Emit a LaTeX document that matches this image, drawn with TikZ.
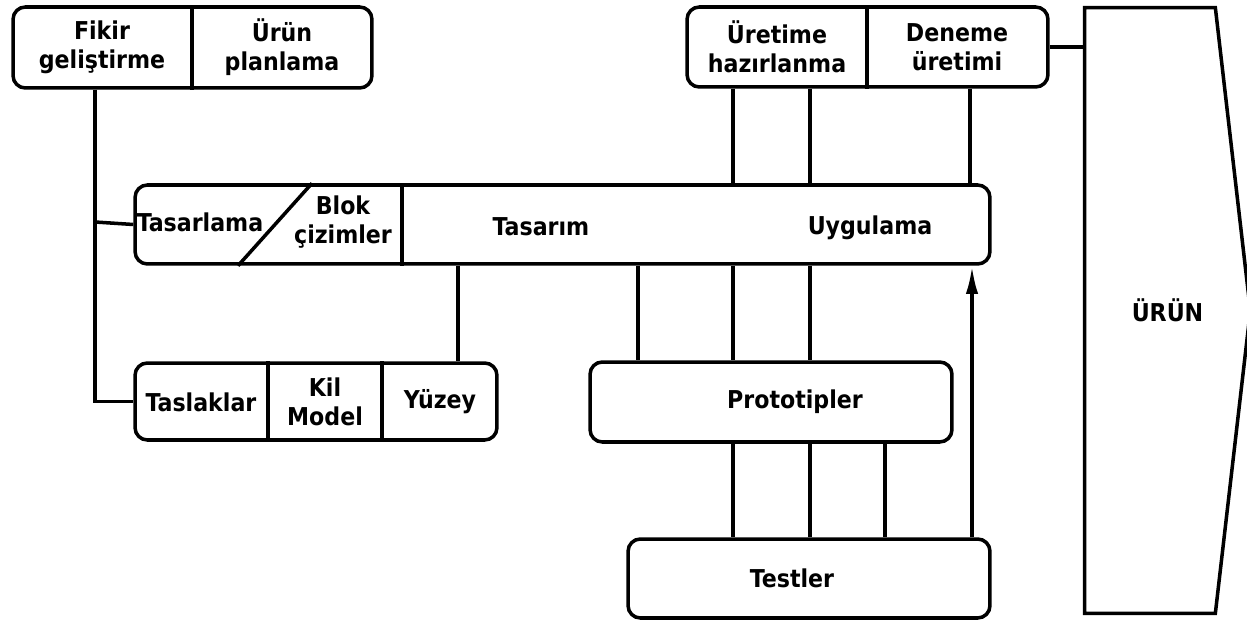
\documentclass[tikz,border=0pt]{standalone}
\usepackage{fontspec}
\setmainfont{DejaVu Sans Condensed}
\usetikzlibrary{arrows.meta}

\tikzset{
        box/.style={draw=black, line width=2pt, rounded corners=7pt, inner sep=0pt},
        txt/.style={font=\bfseries\fontsize{14}{16.5}\selectfont, align=center, inner sep=0pt},
        wire/.style={draw=black, line width=2pt},
}

\begin{document}
\begin{tikzpicture}[x=0.02cm, y=-0.02cm]
        \useasboundingbox (0,0) rectangle (1247,621);

        \node[box, minimum width=7.18cm, minimum height=1.62cm](plan) at (192.5,47.5) {};
        \node[box, minimum width=7.22cm, minimum height=1.6cm](prod) at (867.5,47) {};
        \node[box, minimum width=17.1cm, minimum height=1.58cm](design) at (562.5,224.5) {};
        \node[box, minimum width=7.24cm, minimum height=1.54cm](sketch) at (316,401.5) {};
        \node[box, minimum width=7.24cm, minimum height=1.6cm](proto) at (771,402) {};
        \node[box, minimum width=7.24cm, minimum height=1.58cm](tests) at (809,578.5) {};
        \node[txt, minimum width=3.3cm, minimum height=12.1cm](product) at (1167.5,310.5) {ÜRÜN};
        \draw[wire] (product.north west) -- ([xshift=-0.7cm]product.north east) -- (product.east)
                -- ([xshift=-0.7cm]product.south east) -- (product.south west) -- cycle;

        \draw[wire] (192,0 |- plan.north) -- (192,0 |- plan.south);
        \draw[wire] (867,0 |- prod.north) -- (867,0 |- prod.south);
        \draw[wire] (312,0 |- design.north) -- (238,0 |- design.south);
        \draw[wire] (402,0 |- design.north) -- (402,0 |- design.south);
        \foreach \x in {268,382} {
                \draw[wire] (\x,0 |- sketch.north) -- (\x,0 |- sketch.south);
            }

        \node[txt](fikir) at (102,47) {Fikir\\geliştirme};
        \node[txt](urunplan) at (282,47) {Ürün\\planlama};
        \node[txt](uretime) at (777,47) {Üretime\\hazırlanma};
        \node[txt](deneme) at (957,47) {Deneme\\üretimi};
        \node[txt](tasarlama) at (200,222) {Tasarlama};
        \node[txt](blok) at (343,222) {Blok\\çizimler};
        \node[txt](tasarim) at (541,227) {Tasarım};
        \node[txt](uygulama) at (870,228) {Uygulama};
        \node[txt](taslaklar) at (201,402) {Taslaklar};
        \node[txt](kil) at (325,402) {Kil\\Model};
        \node[txt](yuzey) at (440,402) {Yüzey};
        \node[txt](prototipler) at (795,402) {Prototipler};
        \node[txt](testler) at (792,578) {Testler};

        \coordinate (spine) at (95,222);
        \draw[wire] (spine |- plan.south) |- (sketch.west);
        \draw[wire] (spine) -- (design.west);
        \draw[wire] (458,0 |- design.south) -- (458,0 |- sketch.north);
        \draw[wire] (prod.east) -- (prod.east -| product.west);
        \foreach \x in {733,810,970} {
                \draw[wire] (\x,0 |- prod.south) -- (\x,0 |- design.north);
            }
        \foreach \x in {638,733,810} {
                \draw[wire] (\x,0 |- design.south) -- (\x,0 |- proto.north);
            }
        \foreach \x in {733,810,885} {
                \draw[wire] (\x,0 |- proto.south) -- (\x,0 |- tests.north);
            }
        \draw[wire, -{Latex[length=16pt, width=7pt]}] (972,0 |- tests.north) -- (972,0 |- design.south);
\end{tikzpicture}
\end{document}
